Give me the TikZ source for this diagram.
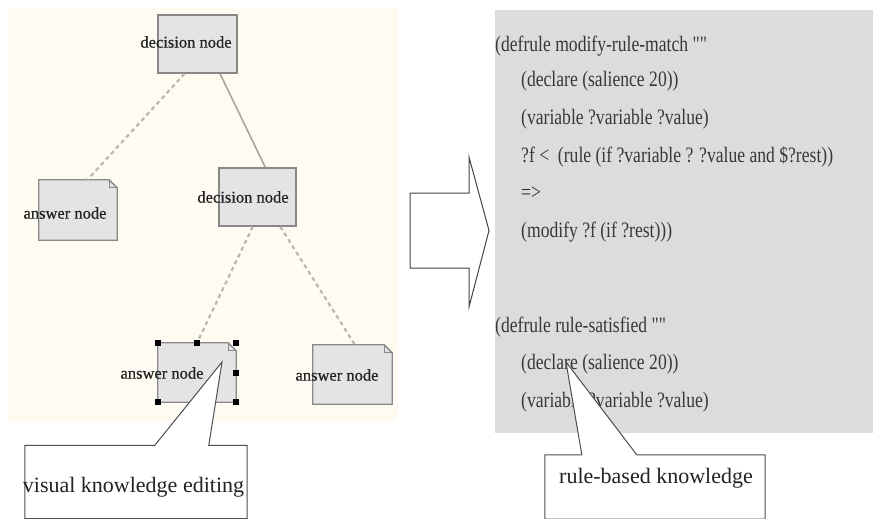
\documentclass[tikz,border=0pt]{standalone}
\usepackage{fontspec}
\setmainfont{Liberation Serif}
\newfontfamily\codefont[FakeStretch=0.8]{Liberation Serif}
\newfontfamily\labelfont[FakeBold=0.6]{Liberation Serif}
\usetikzlibrary{calc}
\definecolor{cream}{HTML}{FEFBF2}
\definecolor{panel}{HTML}{DCDCDC}
\definecolor{nodefill}{HTML}{E4E4E4}
\definecolor{nodeline}{HTML}{888888}
\definecolor{linkgray}{HTML}{BDB6AE}
\definecolor{ink}{HTML}{222222}
\begin{document}
\begin{tikzpicture}[x=1pt,y=-1pt,
  box/.style={inner sep=0pt, minimum width=#1},
  decbox/.style={draw=nodeline, fill=nodefill, line width=1.3pt, inner sep=0pt, minimum height=58pt},
  ansbox/.style={inner sep=0pt, minimum height=59pt},
  nodelabel/.style={font=\labelfont\fontsize{16.5}{18}\selectfont, text=ink, inner sep=0pt},
  codeline/.style={anchor=base west, font=\codefont\fontsize{22}{23}\selectfont, text=ink!90, inner sep=0pt},
  dashlink/.style={draw=linkgray, line width=2.2pt, dash pattern=on 4pt off 3.5pt},
  solidlink/.style={draw=linkgray!90!black, line width=1.6pt},
  handle/.style={fill=black, minimum size=6pt, inner sep=0pt},
  callout/.style={draw=ink!80, fill=white, line width=1pt},
  bigtext/.style={font=\fontsize{22}{24}\selectfont, text=ink, inner sep=0pt},
]
\useasboundingbox (0,0) rectangle (873,519);
% backgrounds
\fill[cream] (8,8) rectangle (398,422);
\fill[panel] (495,10) rectangle (873,433);

% decision nodes
\node[decbox, minimum width=79pt] (dec1) at (197.5,44) {};
\node[decbox, minimum width=77pt] (dec2) at (257.5,197) {};
% answer nodes (shape drawn with folded corner)
\node[ansbox, minimum width=78pt, minimum height=60pt] (ans1) at (78,210) {};
\node[ansbox, minimum width=78pt] (ans2) at (197,372.5) {};
\node[ansbox, minimum width=79pt] (ans3) at (352.5,374.5) {};
\foreach \a in {ans1,ans2,ans3}{
  \draw[draw=nodeline, fill=nodefill, line width=1.3pt]
    (\a.north west) -- ($(\a.north east)+(-8,0)$) -- ($(\a.north east)+(0,8)$)
    -- (\a.south east) -- (\a.south west) -- cycle;
  \draw[draw=nodeline, line width=0.8pt]
    ($(\a.north east)+(-8,0)$) -- ($(\a.north east)+(-8,8)$) -- ($(\a.north east)+(0,8)$);
}

% connectors
\draw[dashlink] ($(dec1.south west)!0.34!(dec1.south east)$) -- ($(ans1.north west)!0.62!(ans1.north east)$);
\draw[solidlink] ($(dec1.south west)!0.78!(dec1.south east)$) -- ($(dec2.north west)!0.6!(dec2.north east)$);
\draw[dashlink] ($(dec2.south west)!0.44!(dec2.south east)$) -- (ans2.north);
\draw[dashlink] ($(dec2.south west)!0.79!(dec2.south east)$) -- ($(ans3.north west)!0.53!(ans3.north east)$);

% node labels
\node[nodelabel] (l1) at (186,42) {decision node};
\node[nodelabel] (l2) at (243,197) {decision node};
\node[nodelabel] (l3) at (65,213) {answer node};
\node[nodelabel] (l5) at (337,375) {answer node};

% selection handles
\node[handle] (h1) at (ans2.north west) {};
\node[handle] (h2) at (ans2.north) {};
\node[handle] (h3) at (ans2.north east) {};
\node[handle] (h4) at (ans2.east) {};
\node[handle] (h5) at (ans2.south west) {};
\node[handle] (h6) at (ans2.south east) {};
\node[nodelabel] (l4) at (162,373) {answer node};

% code
\node[codeline] (c1) at (495,52) {(defrule modify-rule-match ""};
\node[codeline] (c2) at (521,87) {(declare (salience 20))};
\node[codeline] (c3) at (521,124) {(variable ?variable ?value)};
\node[codeline] (c4) at (521,162) {?f <\ \ (rule (if ?variable ? ?value and \$?rest))};
\node[codeline] (c5) at (521,199) {=>};
\node[codeline] (c6) at (521,237) {(modify ?f (if ?rest)))};
\node[codeline] (c7) at (495,332) {(defrule rule-satisfied ""};
\node[codeline] (c8) at (521,369) {(declare (salience 20))};
\node[codeline] (c9) at (521,407) {(variable ?variable ?value)};

% big arrow
\draw[draw=ink!85, fill=white, line width=1pt]
  (410,193) -- (469,193) -- (469,157) -- (489,230.5) -- (469,307) -- (469,268) -- (410,268) -- cycle;

% callouts
\coordinate (tipA) at (222,362);
\node[box=222pt, minimum height=73pt] (calA) at (136,482) {};
\draw[callout] (calA.north west) -- ($(calA.north west)+(130,0)$) -- (tipA) -- ($(calA.north west)+(184,0)$)
  -- (calA.north east) -- (calA.south east) -- (calA.south west) -- cycle;
\node[bigtext] (tA) at (133.5,487) {visual knowledge editing};

\coordinate (tipB) at (566,362);
\node[box=220pt, minimum height=64pt] (calB) at (655,487) {};
\draw[callout] (calB.north west) -- ($(calB.north west)+(37,0)$) -- (tipB) -- ($(calB.north west)+(92,0)$)
  -- (calB.north east) -- (calB.south east) -- (calB.south west) -- cycle;
\node[bigtext] (tB) at (656,478) {rule-based knowledge};
\end{tikzpicture}
\end{document}
